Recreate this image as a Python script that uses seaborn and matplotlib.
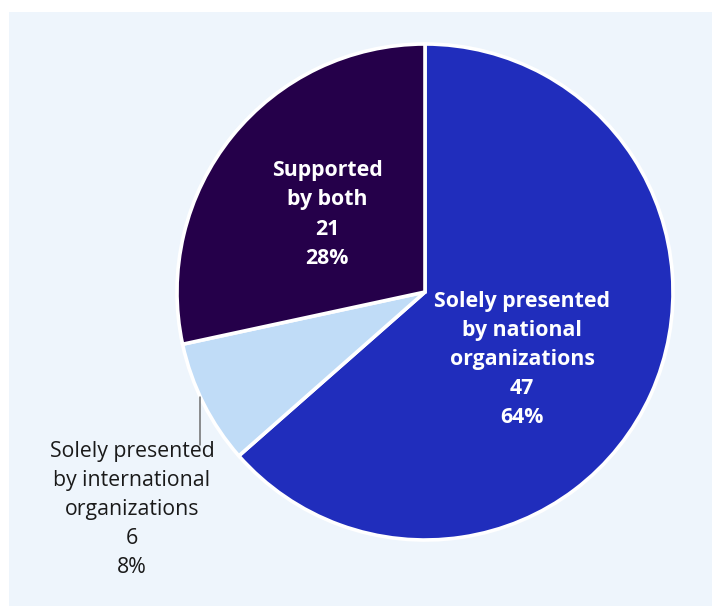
import matplotlib
matplotlib.use("Agg")
import matplotlib.pyplot as plt
import seaborn as sns
from matplotlib.patches import Rectangle

categories = ["Solely presented\nby national\norganizations",
              "Solely presented\nby international\norganizations",
              "Supported\nby both"]
values = [47, 6, 21]
percents = ["64%", "8%", "28%"]
colors = ["#202dbc", "#c0dcf7", "#25004a"]

sns.set_theme(style="white")
plt.rcParams['font.family'] = ['Open Sans', 'Noto Sans', 'DejaVu Sans']

W, H = 712, 606
fig = plt.figure(figsize=(W / 100, H / 100), dpi=100)
fig.patch.set_facecolor("white")
fig.patches.append(Rectangle((9 / W, 0), 1, (H - 12) / H, transform=fig.transFigure,
                             facecolor="#eef5fc", edgecolor="none", zorder=-10))

cx, cy, R = 425, 292, 248
ax = fig.add_axes([(cx - R) / W, (H - cy - R) / H, 2 * R / W, 2 * R / H])
ax.set_zorder(5)
ax.set_facecolor("none")
ax.axis("off")

wedges, _ = ax.pie(values, colors=colors, startangle=90, counterclock=False,
                   radius=1, wedgeprops=dict(edgecolor="white", linewidth=2.6),
                   frame=False)
for w in wedges:
    w.set_clip_on(False)
ax.set_xlim(-1, 1)
ax.set_ylim(-1, 1)


def d(px, py):
    return ((px - cx) / R, (cy - py) / R)


fs = 15.3
ls = 1.51
# inside labels
x, y = d(522, 359.5)
ax.text(x, y, f"{categories[0]}\n{values[0]}\n{percents[0]}", color="white",
        fontsize=fs, fontweight="bold", ha="center", va="center", linespacing=ls)
x, y = d(327, 214.5)
ax.text(x, y, f"{categories[2]}\n{values[2]}\n{percents[2]}", color="white",
        fontsize=fs, fontweight="bold", ha="center", va="center", linespacing=ls)
# outside label
x, y = d(132, 509.5)
ax.text(x, y, f"{categories[1]}\n{values[1]}\n{percents[1]}", color="#1a1a1a",
        fontsize=fs, ha="center", va="center", linespacing=ls, clip_on=False)
x0, y0 = d(200, 397)
x1, y1 = d(200, 445)
ax.plot([x0, x1], [y0, y1], color="#6e6e6e", lw=1.1, clip_on=False)

fig.savefig("out.png", dpi=100)
